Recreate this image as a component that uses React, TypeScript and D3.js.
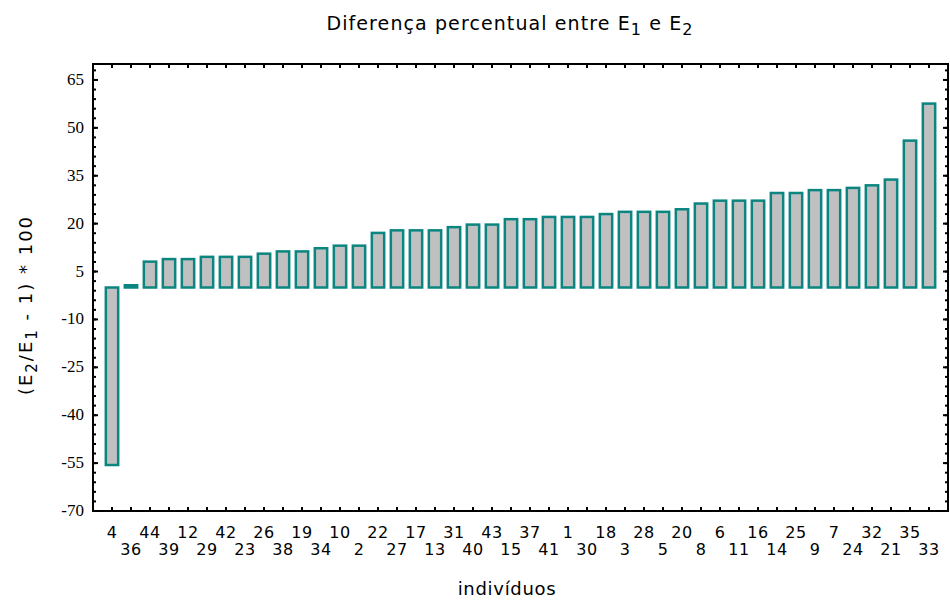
import React from 'react';
import { scaleLinear, range } from 'd3';

const width = 950;
const height = 601;

const ids = [
    '4', '36', '44', '39', '12', '29', '42', '23', '26', '38', '19',
    '34', '10', '2', '22', '27', '17', '13', '31', '40', '43', '15',
    '37', '41', '1', '30', '18', '3', '28', '5', '20', '8', '6',
    '11', '16', '14', '25', '9', '7', '24', '32', '21', '35', '33',
];

const diffs = [
    -55.6, 0.7, 8.1, 8.9, 8.9, 9.6, 9.6, 9.6, 10.6, 11.3, 11.3,
    12.3, 13.1, 13.1, 17.1, 17.9, 17.9, 17.9, 18.9, 19.7, 19.7, 21.4,
    21.4, 22.1, 22.1, 22.1, 23.0, 23.7, 23.7, 23.7, 24.5, 26.3, 27.2,
    27.2, 27.2, 29.6, 29.6, 30.5, 30.5, 31.2, 32.0, 33.8, 46.0, 57.6,
];

const yTicks = [-70, -55, -40, -25, -10, 5, 20, 35, 50, 65];

const left = 93;
const right = 948;
const top = 64;
const bottom = 511;

const x = scaleLinear().domain([0, ids.length + 1]).range([left, right]);
const y = scaleLinear().domain([-70, 70]).range([bottom, top]);

const barW = 0.65 * (x(1) - x(0));
const sans = '"DejaVu Sans", Verdana, sans-serif';
const serif = '"Liberation Serif", serif';

export default function App() {
    const minor = range(-70, 71, 3);
    const xt = range(1, ids.length + 1);

    return (
        <svg width={width} height={height} style={{ position: 'absolute', left: 0, top: 0 }}>
            <rect width={width} height={height} fill="#fff" />

            <text x={510} y={30} textAnchor="middle" fontFamily={sans} fontSize={19} letterSpacing={1.1}>
                Diferença percentual entre E
                <tspan dy={5} fontSize={16}>1</tspan>
                <tspan dy={-5}> e E</tspan>
                <tspan dy={5} fontSize={16}>2</tspan>
            </text>

            {diffs.map((d, i) => (
                <rect
                    key={i}
                    x={x(i + 1) - barW / 2}
                    y={y(Math.max(0, d))}
                    width={barW}
                    height={Math.abs(y(d) - y(0))}
                    fill="#c0c0c0"
                    stroke="#0a8580"
                    strokeWidth={2.5}
                />
            ))}

            <rect x={left} y={top} width={right - left} height={bottom - top}
                fill="none" stroke="#000" strokeWidth={2} />

            {minor.map(v => (
                <g key={'m' + v}>
                    <line x1={left} x2={left + 3} y1={y(v)} y2={y(v)} stroke="#000" strokeWidth={2} />
                    <line x1={right} x2={right - 3} y1={y(v)} y2={y(v)} stroke="#000" strokeWidth={2} />
                </g>
            ))}
            {yTicks.map(v => (
                <g key={'t' + v}>
                    <line x1={left} x2={left + 5} y1={y(v)} y2={y(v)} stroke="#000" strokeWidth={2} />
                    <line x1={right} x2={right - 5} y1={y(v)} y2={y(v)} stroke="#000" strokeWidth={2} />
                    <text x={84} y={y(v) + 5} textAnchor="end" fontFamily={serif} fontSize={17}>{v}</text>
                </g>
            ))}

            {xt.map(i => (
                <g key={'x' + i}>
                    <line x1={x(i)} x2={x(i)} y1={bottom} y2={bottom - 4} stroke="#000" strokeWidth={2} />
                    <line x1={x(i)} x2={x(i)} y1={top} y2={top + 4} stroke="#000" strokeWidth={2} />
                </g>
            ))}

            {ids.map((id, i) => (
                <text key={'l' + i} x={x(i + 1)} y={i % 2 === 0 ? 538 : 555}
                    textAnchor="middle" fontFamily={sans} fontSize={16} letterSpacing={0.5}>{id}</text>
            ))}

            <text x={507} y={595} textAnchor="middle" fontFamily={sans} fontSize={18} letterSpacing={0.7}>indivíduos</text>

            <text transform="translate(32,305) rotate(-90)" textAnchor="middle" fontFamily={sans} fontSize={18} letterSpacing={2}>
                (E
                <tspan dy={5} fontSize={15}>2</tspan>
                <tspan dy={-5}>/E</tspan>
                <tspan dy={5} fontSize={15}>1</tspan>
                <tspan dy={-5}> - 1) * 100</tspan>
            </text>
        </svg>
    );
}
